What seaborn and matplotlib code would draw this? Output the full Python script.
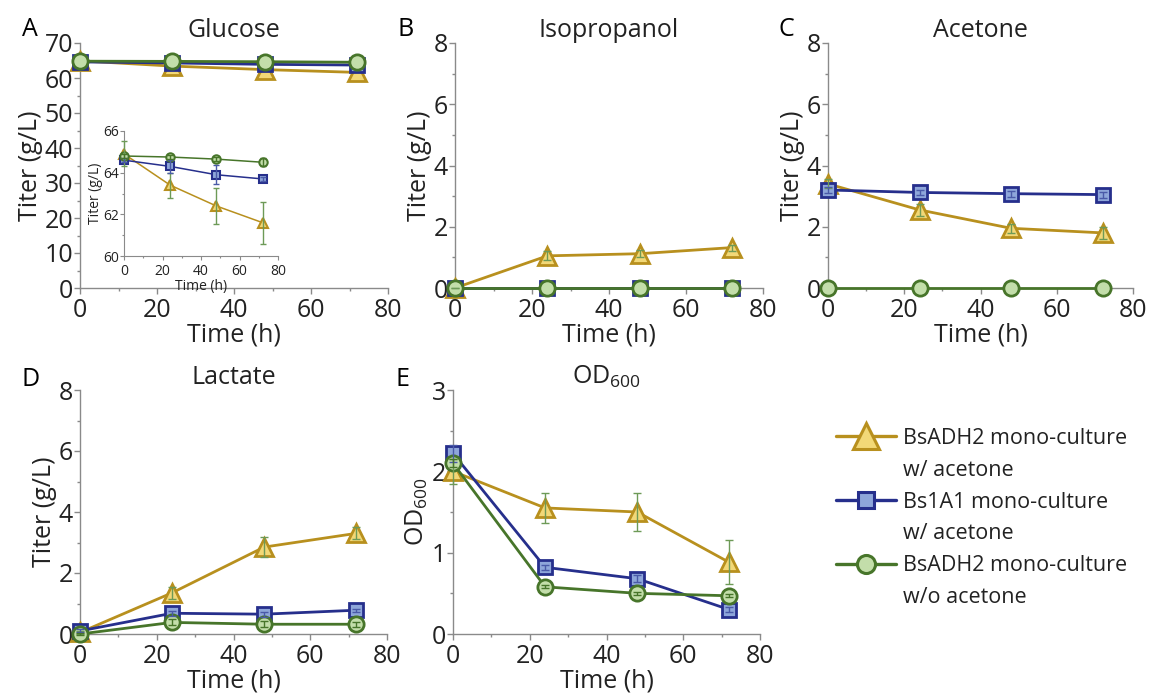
import numpy as np
import pandas as pd
import matplotlib
matplotlib.use('Agg')
import matplotlib.pyplot as plt
from matplotlib.lines import Line2D
from matplotlib.ticker import MultipleLocator
import seaborn as sns

sns.set_style('white')
plt.rcParams['font.family'] = ['Open Sans', 'DejaVu Sans']
plt.rcParams['mathtext.default'] = 'regular'

# ── Data ──────────────────────────────────────────────────────────────────────
time = [0, 24, 48, 72]
series = ['BsADH2 mono-culture\nw/ acetone',
          'Bs1A1 mono-culture\nw/ acetone',
          'BsADH2 mono-culture\nw/o acetone']

glucose_tri = [64.9, 63.4, 62.4, 61.6]
glucose_sq = [64.6, 64.3, 63.9, 63.7]
glucose_ci = [64.8, 64.75, 64.65, 64.5]
glucose_tri_err = [0.6, 0.6, 0.85, 1.0]
glucose_sq_err = [0.1, 0.3, 0.45, 0.1]
glucose_ci_err = [0.1, 0.1, 0.1, 0.2]

iso_tri = [0.0, 1.05, 1.12, 1.32]
iso_sq = [0.0, 0.0, 0.0, 0.0]
iso_ci = [0.0, 0.0, 0.0, 0.0]
iso_tri_err = [0.0, 0.15, 0.12, 0.1]

ace_tri = [3.4, 2.55, 1.95, 1.8]
ace_sq = [3.2, 3.12, 3.08, 3.05]
ace_ci = [0.0, 0.0, 0.0, 0.0]
ace_tri_err = [0.15, 0.2, 0.15, 0.2]
ace_sq_err = [0.1, 0.08, 0.1, 0.1]

lac_tri = [0.05, 1.35, 2.85, 3.3]
lac_sq = [0.1, 0.68, 0.65, 0.78]
lac_ci = [0.0, 0.38, 0.32, 0.32]
lac_tri_err = [0.05, 0.2, 0.32, 0.2]
lac_sq_err = [0.05, 0.08, 0.08, 0.05]
lac_ci_err = [0.03, 0.1, 0.1, 0.08]

od_tri = [2.0, 1.55, 1.5, 0.88]
od_sq = [2.22, 0.82, 0.68, 0.3]
od_ci = [2.1, 0.58, 0.5, 0.47]
od_tri_err = [0.15, 0.18, 0.23, 0.27]
od_sq_err = [0.1, 0.03, 0.04, 0.03]
od_ci_err = [0.05, 0.02, 0.02, 0.02]

# ── Styles ────────────────────────────────────────────────────────────────────
styles = [
    dict(marker='^', color='#b8901e', mfc='#f2d877', ecol='#6d9a57', ms=13, lms=19),
    dict(marker='s', color='#262f8c', mfc='#8ea6da', ecol='#4a5aa8', ms=10, lms=11.5),
    dict(marker='o', color='#47752a', mfc='#c3deaa', ecol='#47752a', ms=11, lms=13),
]
FS = 18
TXT = '#222222'

W, H = 1149, 697
fig = plt.figure(figsize=(W / 100, H / 100), dpi=100)


def px_axes(x0, x1, ytop, ybot):
    return fig.add_axes([x0 / W, 1 - ybot / H, (x1 - x0) / W, (ybot - ytop) / H])


def style_axes(ax, ymax, ymaj, ymin, fs=FS, lw=1.0, pad=1):
    ax.set_xlim(0, 80)
    ax.set_ylim(0, ymax)
    ax.xaxis.set_major_locator(MultipleLocator(20))
    ax.xaxis.set_minor_locator(MultipleLocator(10))
    ax.yaxis.set_major_locator(MultipleLocator(ymaj))
    ax.yaxis.set_minor_locator(MultipleLocator(ymin))
    for s in ['top', 'right']:
        ax.spines[s].set_visible(False)
    for s in ['left', 'bottom']:
        ax.spines[s].set_color('#8a8a8a')
        ax.spines[s].set_linewidth(lw)
    ax.tick_params(which='both', direction='out', color='#8a8a8a', width=lw,
                   labelsize=fs, labelcolor=TXT, pad=pad,
                   bottom=True, left=True)
    ax.tick_params(axis='x', pad=pad + 2)
    ax.tick_params(which='major', length=4)
    ax.tick_params(which='minor', length=2.5)
    ax.grid(False)


def draw(ax, ys, errs, scale=1.0, lw=2.0):
    for y, e, st in zip(ys, errs, styles):
        df = pd.DataFrame({'t': time, 'v': y})
        sns.lineplot(data=df, x='t', y='v', ax=ax, color=st['color'], lw=lw,
                     marker=st['marker'], markersize=st['ms'] * scale,
                     markerfacecolor=st['mfc'], markeredgecolor=st['color'],
                     markeredgewidth=2.0 * scale ** 0.5, clip_on=False, zorder=3)
        if e is not None:
            ax.errorbar(time, y, yerr=e, fmt='none', ecolor=st['ecol'],
                        elinewidth=1.0, capsize=3 * scale ** 0.5, capthick=1.0,
                        zorder=4, clip_on=False)


def labels(ax, title, ylabel='Titer (g/L)'):
    ax.set_title(title, fontsize=FS, color=TXT, pad=4)
    ax.set_xlabel('Time (h)', fontsize=FS, color=TXT, labelpad=0)
    ax.set_ylabel(ylabel, fontsize=FS, color=TXT, labelpad=1)


# A: Glucose
axA = px_axes(80, 388, 43, 288)
draw(axA, [glucose_tri, glucose_sq, glucose_ci], [None, None, None])
style_axes(axA, 70, 10, 5)
labels(axA, 'Glucose')

axI = px_axes(124, 278, 131, 256)
draw(axI, [glucose_tri, glucose_sq, glucose_ci],
     [glucose_tri_err, glucose_sq_err, glucose_ci_err], scale=0.55, lw=1.1)
style_axes(axI, 66, 2, 1, fs=10, lw=0.8, pad=0.5)
axI.set_ylim(60, 66)
axI.tick_params(which='major', length=3)
axI.tick_params(which='minor', length=1.5)
axI.set_xlabel('Time (h)', fontsize=10, color=TXT, labelpad=0)
axI.set_ylabel('Titer (g/L)', fontsize=10, color=TXT, labelpad=0)
axI.patch.set_alpha(0)

# B: Isopropanol
axB = px_axes(455, 763, 43, 288)
draw(axB, [iso_tri, iso_sq, iso_ci], [iso_tri_err, None, None])
style_axes(axB, 8, 2, 1)
labels(axB, 'Isopropanol')

# C: Acetone
axC = px_axes(828, 1133, 43, 288)
draw(axC, [ace_tri, ace_sq, ace_ci], [ace_tri_err, ace_sq_err, None])
style_axes(axC, 8, 2, 1)
labels(axC, 'Acetone')

# D: Lactate
axD = px_axes(80, 387, 390, 634)
draw(axD, [lac_tri, lac_sq, lac_ci], [lac_tri_err, lac_sq_err, lac_ci_err])
style_axes(axD, 8, 2, 1)
labels(axD, 'Lactate')

# E: OD600
axE = px_axes(453, 760, 390, 634)
draw(axE, [od_tri, od_sq, od_ci], [od_tri_err, od_sq_err, od_ci_err])
style_axes(axE, 3, 1, 0.5)
labels(axE, 'OD$_{600}$', ylabel='OD$_{600}$')

# panel letters
for lab, (x, y) in zip('ABCDE', [(22, 30), (398, 30), (778, 30), (22, 380), (396, 380)]):
    fig.text(x / W, 1 - y / H, lab, fontsize=18, color='black', va='center', ha='left')

# legend: marker on the first line of each two-line label
handles, texts = [], []
for name, st in zip(series, styles):
    first, second = name.split('\n')
    handles.append(Line2D([0], [0], color=st['color'], lw=2.4, marker=st['marker'],
                          markersize=st['lms'], markerfacecolor=st['mfc'],
                          markeredgecolor=st['color'], markeredgewidth=2.2))
    texts.append(first)
    handles.append(Line2D([0], [0], color='none'))
    texts.append(second)
fig.legend(handles, texts, loc='upper left', bbox_to_anchor=(836 / W, 1 - 428 / H),
           frameon=False, fontsize=15.5, handlelength=2.8, handletextpad=0.3,
           labelspacing=0.5, borderpad=0, borderaxespad=0, labelcolor=TXT)

fig.savefig('out.png', dpi=100)
